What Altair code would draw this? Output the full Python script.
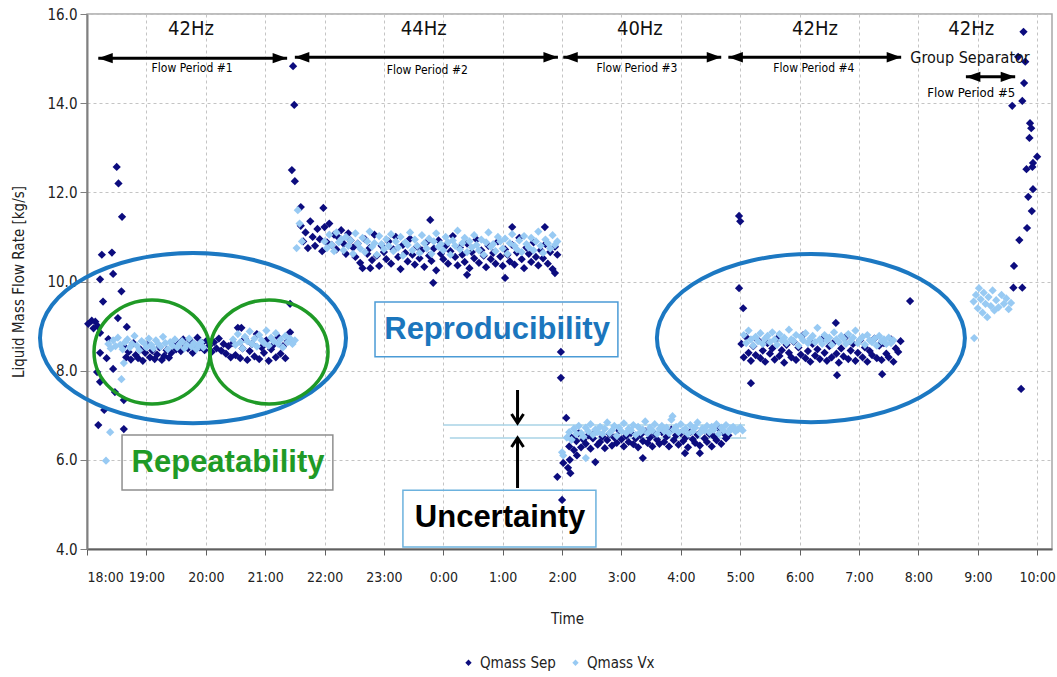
import altair as alt
import numpy as np
import pandas as pd

DARK = "#0c0c7e"
LIGHT = "#98caf3"
NARROW = "Liberation Sans Narrow, DejaVu Sans Condensed, Arial Narrow, sans-serif"
BOLD = "Liberation Sans, Arial, sans-serif"

# ---------------- data (hours after 18:00, kg/s) ----------------
STEP = 0.04
sep_p1_start, sep_p1 = 0.62, [
    8.55, 8.3, 8.42, 8.25, 8.62, 8.35, 8.28, 8.48, 8.22, 8.4, 8.58, 8.3, 8.45, 8.26, 8.36, 8.52, 8.24, 8.33, 8.46, 8.29, 8.4, 8.56,
    8.48, 8.6, 8.44, 8.7, 8.55, 8.5, 8.66, 8.4, 8.58, 8.74, 8.52, 8.62, 8.46, 8.68, 8.56, 8.42, 8.64, 8.5, 8.72, 8.45, 8.6, 8.38, 8.55, 8.3,
    8.62, 8.35, 8.96, 8.28, 8.5, 8.72, 8.24, 8.44, 8.6, 8.32, 8.82, 8.26, 8.52, 8.4, 8.68, 8.22, 8.48, 8.58, 8.3, 8.75, 8.38, 8.55, 8.28, 8.66, 8.86]
sep_p2_start, sep_p2 = 3.6, [
    11.25, 10.9, 11.1, 10.75, 11.35, 11.0, 10.8, 11.18, 10.95, 10.68, 11.22, 10.88, 11.3, 10.82, 11.05, 10.72, 10.98, 11.15, 10.85, 10.62, 11.08, 10.92, 10.76,
    10.55, 10.85, 10.42, 10.3, 10.95, 10.62, 10.75, 10.48, 11.05, 10.58,
    10.35, 10.8, 10.66, 10.5, 10.9, 10.4, 10.72, 11.0, 10.55, 10.28,
    10.82, 10.64, 10.45, 10.96, 10.6, 10.38, 10.78, 10.52, 10.7, 10.33,
    10.88, 10.58, 10.46, 10.74, 10.25, 10.92, 10.62, 10.5, 10.8, 10.4,
    10.68, 11.02, 10.55, 10.36, 10.76, 10.6, 10.44, 10.85, 10.3, 10.66,
    10.52, 10.94, 10.42, 10.7, 10.58, 10.32, 10.8, 10.5, 10.64, 10.4,
    10.9, 10.56, 10.35, 10.72, 10.6, 10.45, 10.82, 10.38, 10.65, 10.98,
    10.5, 10.3, 10.76, 10.62, 10.44, 10.88, 10.55, 10.36, 10.7, 10.52,
    10.84, 10.4, 10.66, 10.28, 10.78, 10.6]
sep_p3_start, sep_p3 = 8.12, [
    6.3, 6.5, 6.22, 6.42, 6.6, 6.28, 6.45, 6.36, 6.55, 6.25,
    6.48, 6.62, 6.34, 6.4, 6.52, 6.26, 6.44, 6.58, 6.32, 6.5,
    6.38, 6.66, 6.46, 6.3, 6.54, 6.4, 6.6, 6.35, 6.48, 6.28,
    6.56, 6.42, 6.64, 6.38, 6.5, 6.3, 6.58, 6.45, 6.36, 6.62,
    6.4, 6.52, 6.3, 6.68, 6.44, 6.55, 6.34, 6.6, 6.42, 6.5,
    6.28, 6.62, 6.46, 6.38, 6.56, 6.32, 6.66, 6.48, 6.4, 6.58,
    6.3, 6.52, 6.44, 6.7, 6.36, 6.6, 6.48, 6.55]
sep_p4_start, sep_p4 = 11.02, [
    8.6, 8.3, 8.75, 8.4, 8.22, 8.55, 8.35, 8.68, 8.28, 8.45,
    8.2, 8.62, 8.38, 8.5, 8.25, 8.72, 8.33, 8.46, 8.18, 8.58,
    8.4, 8.3, 8.65, 8.24, 8.52, 8.36, 8.8, 8.28, 8.44, 8.2,
    8.6, 8.34, 8.48, 8.26, 8.7, 8.4, 8.22, 8.55, 8.3, 8.64,
    8.38, 8.18, 8.5, 8.32, 8.76, 8.26, 8.45, 8.6, 8.22, 8.4,
    8.68, 8.3, 8.52, 8.2, 8.44, 8.35, 8.72, 8.28, 8.56, 8.24,
    8.62, 8.38, 8.3, 8.7, 8.2, 8.5, 8.42, 8.66]
sep_out_h = [0.02, 0.08, 0.14, 0.18, 0.11, 0.22, 0.25, 0.42, 0.22, 0.44, 0.27, 0.58, 0.52, 0.67, 0.36, 0.22, 0.33, 0.44,
             0.17, 0.22, 0.47, 0.62, 0.29, 0.19, 0.62, 0.5, 0.53, 0.59, 3.42, 2.6,
             3.47, 3.49, 3.45, 3.5, 3.6, 3.98, 5.78, 7.16, 7.71, 5.83, 4.77, 6.4, 7.04, 7.88,
             7.98, 7.98, 8.07, 7.92, 8.14, 8.0, 8.1, 8.02, 8.13, 8.56, 9.36, 10.07, 10.32, 8.25,
             10.98, 11.0, 10.98, 11.05, 11.18, 13.86, 12.63, 13.39, 12.61,
             15.61, 15.6, 15.75, 15.73, 15.77, 15.68, 15.8, 15.78, 15.58, 15.75, 15.88, 15.9, 15.87, 16.0,
             15.93, 15.82, 15.92, 15.93, 15.85, 15.91, 15.83, 15.7]
sep_out_v = [9.05, 9.12, 9.1, 9.0, 8.95, 8.85, 10.6, 10.65, 10.05, 10.17, 9.55, 9.78, 9.18, 8.98, 8.71, 8.4, 8.28, 8.04,
             7.97, 7.75, 7.52, 7.34, 7.12, 6.78, 6.69, 12.57, 12.2, 11.45, 9.5, 8.96,
             14.83, 13.96, 12.5, 12.25, 11.67, 11.65, 11.38, 11.22, 11.22, 9.97, 10.3, 10.15, 10.08, 10.19,
             8.42, 7.84, 6.94, 5.62, 5.7, 5.1, 5.82, 5.93, 6.0, 5.95, 6.04, 6.15, 6.15, 6.1,
             11.47, 11.35, 9.85, 9.4, 7.72, 9.56, 7.9, 7.92, 9.07,
             10.35, 9.86, 9.86, 7.59, 15.6, 15.04, 14.93, 14.45, 13.94, 14.05, 13.55, 13.44, 13.22, 12.8,
             12.66, 12.52, 12.57, 12.07, 11.9, 11.58, 11.2, 10.93]

vx_p1a_start, vx_p1a = 0.36, [
    8.6, 8.5, 8.68, 8.55, 8.74, 8.58, 8.48, 8.64, 8.7, 8.52,
    8.6, 8.78, 8.56, 8.46, 8.66, 8.62, 8.52, 8.72, 8.58, 8.5,
    8.68, 8.6, 8.54, 8.76, 8.62, 8.48, 8.64, 8.56, 8.7, 8.52,
    8.6, 8.66, 8.5, 8.58, 8.72, 8.54, 8.62, 8.48, 8.56, 8.64, 8.52]
vx_p1b_start, vx_p1b = 2.46, [
    8.7, 8.58, 8.82, 8.64, 8.5, 8.76, 8.66, 8.88, 8.6, 8.72, 8.54, 8.8, 8.68, 8.62,
    8.9, 8.56, 8.74, 8.66, 8.84, 8.6, 8.7, 8.52, 8.78, 8.64, 8.72, 8.6, 8.68]
vx_p2_start, vx_p2 = 4.0, [
    10.9, 10.75, 11.05, 10.82, 10.68, 11.1, 10.88, 10.95, 10.7, 11.0,
    10.8, 10.92, 10.62, 11.08, 10.85, 10.74, 10.98, 10.66, 10.9, 11.12,
    10.78, 10.86, 10.6, 11.02, 10.84, 10.72, 10.95, 10.8, 11.06, 10.68,
    10.9, 10.76, 11.0, 10.58, 10.88, 10.82, 11.1, 10.7, 10.94, 10.8,
    10.64, 11.04, 10.86, 10.74, 10.96, 10.62, 10.9, 11.08, 10.78, 10.84,
    10.7, 11.0, 10.88, 10.6, 10.92, 10.8, 11.14, 10.72, 10.86, 10.98,
    10.66, 10.9, 10.76, 11.04, 10.82, 10.7, 10.94, 10.6, 10.88, 11.1,
    10.78, 10.84, 10.68, 11.0, 10.9, 10.74, 10.96, 10.62, 10.86, 11.06,
    10.8, 10.72, 10.92, 10.66, 11.02, 10.84, 10.76, 10.98, 10.7, 10.9,
    11.12, 10.8, 10.64, 10.94, 10.86, 10.74, 11.04, 10.82, 10.9]
vx_p3_start, vx_p3 = 8.08, [
    6.5, 6.62, 6.45, 6.7, 6.58, 6.76, 6.6, 6.52, 6.72, 6.64,
    6.8, 6.56, 6.68, 6.62, 6.74, 6.58, 6.7, 6.84, 6.6, 6.66,
    6.76, 6.54, 6.72, 6.64, 6.82, 6.6, 6.7, 6.66, 6.78, 6.56,
    6.74, 6.62, 6.68, 6.86, 6.6, 6.72, 6.66, 6.8, 6.58, 6.7,
    6.76, 6.64, 6.72, 6.6, 6.9, 6.68, 6.74, 6.62, 6.8, 6.66,
    6.7, 6.58, 6.78, 6.64, 6.72, 6.84, 6.6, 6.7, 6.66, 6.76,
    6.62, 6.74, 6.68, 6.8, 6.58, 6.72, 6.66, 6.78, 6.62, 6.7,
    6.74, 6.64, 6.68, 6.72, 6.66]
vx_p4_start, vx_p4 = 11.06, [
    8.8, 8.62, 8.9, 8.7, 8.56, 8.76, 8.66, 8.84, 8.6, 8.72,
    8.78, 8.64, 8.86, 8.7, 8.58, 8.82, 8.68, 8.74, 8.62, 8.92,
    8.7, 8.66, 8.8, 8.56, 8.76, 8.68, 8.84, 8.62, 8.72, 8.78,
    8.64, 8.96, 8.7, 8.6, 8.8, 8.68, 8.74, 8.58, 8.86, 8.7,
    8.64, 8.78, 8.72, 8.6, 8.82, 8.66, 8.74, 8.9, 8.62, 8.7,
    8.76, 8.58, 8.8, 8.68, 8.64, 8.72, 8.56, 8.78, 8.66, 8.7,
    8.6, 8.74, 8.62, 8.68]
vx_out_h = [0.58, 0.39, 0.32, 0.62, 3.55, 3.53, 3.58, 3.62, 8.4, 8.0, 8.02, 9.86, 14.94,
            14.93, 14.97, 15.0, 15.02, 15.05, 15.08, 15.1, 15.13, 15.16, 15.18, 15.22, 15.25, 15.28, 15.31,
            15.35, 15.4, 15.44, 15.48, 15.52, 15.56]
vx_out_v = [7.81, 6.62, 5.98, 8.17, 11.6, 10.75, 11.3, 10.9, 6.04, 6.17, 6.1, 6.98, 8.73,
            9.55, 9.7, 9.4, 9.85, 9.6, 9.3, 9.75, 9.5, 9.2, 9.65, 9.45, 9.8, 9.35, 9.58,
            9.42, 9.7, 9.5, 9.62, 9.38, 9.52]

x_ticks = list(range(17))
y_ticks = [4, 6, 8, 10, 12, 14, 16]
SERIES = ["Qmass Sep", "Qmass Vx"]


def band(start, vals, name):
    return pd.DataFrame({"h": start + STEP * np.arange(len(vals)), "v": vals, "series": name})


pts = pd.concat([
    band(sep_p1_start, sep_p1, SERIES[0]), band(sep_p2_start, sep_p2, SERIES[0]),
    band(sep_p3_start, sep_p3, SERIES[0]), band(sep_p4_start, sep_p4, SERIES[0]),
    pd.DataFrame({"h": sep_out_h, "v": sep_out_v, "series": SERIES[0]}),
    band(vx_p1a_start, vx_p1a, SERIES[1]), band(vx_p1b_start, vx_p1b, SERIES[1]),
    band(vx_p2_start, vx_p2, SERIES[1]), band(vx_p3_start, vx_p3, SERIES[1]),
    band(vx_p4_start, vx_p4, SERIES[1]),
    pd.DataFrame({"h": vx_out_h, "v": vx_out_v, "series": SERIES[1]}),
], ignore_index=True)

# ---------------- scales / axes ----------------
xs = alt.Scale(domain=[0, 16.25], nice=False, zero=False)
ys = alt.Scale(domain=[4, 16], nice=False, zero=False)
x_axis = alt.Axis(values=x_ticks, labelExpr="((datum.value + 18) % 24) + ':00'", grid=True,
                  tickSize=6, labelPadding=15, labelFontSize=14, labelFont=NARROW, labelColor="#222",
                  titleFont=NARROW, titleFontSize=15, titleFontWeight="normal", titleColor="#222",
                  titleX=480, titleY=69, titleBaseline="middle", titleAlign="center",
                  domainColor="#606060", domainWidth=2, tickColor="#606060")
y_axis = alt.Axis(values=y_ticks, format=".1f", grid=True, tickSize=7, labelPadding=3,
                  labelFontSize=15, labelFont=NARROW, labelColor="#222",
                  titleFont=NARROW, titleFontSize=15, titleFontWeight="normal", titleColor="#222",
                  titleX=-69, titleY=267.5, titleAngle=-90, titleBaseline="middle", titleAlign="center",
                  domainColor="#808080", domainWidth=2, tickColor="#808080")


def X(f="h"):
    return alt.X(f, type="quantitative", scale=xs, axis=x_axis, title="Time")


def Y(f="v"):
    return alt.Y(f, type="quantitative", scale=ys, axis=y_axis, title="Liquid Mass Flow Rate [kg/s]")


# ---------------- annotations ----------------
boxes = pd.DataFrame({
    "h": [0.59, 4.85, 5.32], "h2": [4.14, 8.94, 8.57],
    "v": [6.557, 9.54, 5.32], "v2": [5.323, 8.31, 4.045],
    "col": ["#8f8f8f", "#4b9bd6", "#6cb2de"]})
box_layer = alt.Chart(boxes).mark_rect(fill="white", fillOpacity=0, strokeWidth=1.5).encode(
    x=X(), x2="h2", y=Y(), y2="v2", stroke=alt.Stroke("col:N", scale=None))

points = alt.Chart(pts).mark_point(shape="diamond", filled=True, size=68, opacity=1).encode(
    x=X(), y=Y(),
    color=alt.Color("series:N", scale=alt.Scale(domain=SERIES, range=[DARK, LIGHT]),
                    legend=alt.Legend(title=None, orient="none", legendX=374, legendY=641,
                                      direction="horizontal", symbolType="diamond", symbolSize=40,
                                      labelFont=NARROW, labelFontSize=15, labelColor="#222",
                                      columnPadding=12, padding=0, symbolStrokeWidth=0)))

big = pd.DataFrame({"h": [6.905, 2.375, 6.956], "v": [8.91, 5.93, 4.70],
                    "t": ["Reproducibility", "Repeatability", "Uncertainty"],
                    "col": ["#1b76bd", "#1f9a26", "#000000"]})
big_text = alt.Chart(big).mark_text(font=BOLD, fontSize=31, fontWeight="bold",
                                    align="center", baseline="middle").encode(
    x=X(), y=Y(), text="t:N", color=alt.Color("col:N", scale=None))

hz = pd.DataFrame({"h": [1.75, 5.67, 9.31, 12.26, 14.89], "v": [15.66] * 5,
                   "t": ["42Hz", "44Hz", "40Hz", "42Hz", "42Hz"]})
hz_text = alt.Chart(hz).mark_text(font=NARROW, fontSize=20, color="#111",
                                  align="center", baseline="middle").encode(x=X(), y=Y(), text="t:N")

fp = pd.DataFrame({"h": [1.77, 5.73, 9.26, 12.24, 14.89], "v": [14.8, 14.74, 14.8, 14.8, 14.23],
                   "t": ["Flow Period #1", "Flow Period #2", "Flow Period #3", "Flow Period #4", "Flow Period #5"],
                   "fs": [12, 12, 12, 12, 13]})
fp_text = alt.Chart(fp).mark_text(font=NARROW, color="#000", align="center", baseline="middle").encode(
    x=X(), y=Y(), text="t:N", size=alt.Size("fs:Q", scale=None))

gs_text = alt.Chart(pd.DataFrame({"h": [14.87], "v": [15.01], "t": ["Group Separator"]})).mark_text(
    font=NARROW, fontSize=16, color="#111", align="center", baseline="middle").encode(x=X(), y=Y(), text="t:N")

arrows = pd.DataFrame({"h": [0.19, 3.5, 8.02, 10.8, 14.8], "h2": [3.37, 7.93, 10.68, 13.71, 15.63],
                       "v": [15.01, 15.03, 15.03, 15.03, 14.59]})
arrow_lines = alt.Chart(arrows).mark_rule(color="black", strokeWidth=3).encode(x=X(), x2="h2", y=Y())
HEAD_R = "M0,0L-2,-0.72L-2,0.72Z"
HEAD_L = "M0,0L2,-0.72L2,0.72Z"
heads = pd.DataFrame({
    "h": list(arrows["h"]) + list(arrows["h2"]),
    "v": list(arrows["v"]) * 2,
    "shp": [HEAD_L] * 5 + [HEAD_R] * 5})
head_layer = alt.Chart(heads).mark_point(filled=True, size=210, color="black", opacity=1).encode(
    x=X(), y=Y(), shape=alt.Shape("shp:N", scale=None))

# uncertainty marks
ulines = pd.DataFrame({"h": [6.0, 6.11], "h2": [11.08, 11.1], "v": [6.78, 6.49]})
uline_layer = alt.Chart(ulines).mark_rule(color="#a9d3e6", strokeWidth=1.5).encode(x=X(), x2="h2", y=Y())
ushaft = pd.DataFrame({"h": [7.25, 7.25], "v": [7.567, 5.368], "v2": [6.85, 6.47]})
ushaft_layer = alt.Chart(ushaft).mark_rule(color="black", strokeWidth=3).encode(x=X(), y=Y(), y2="v2")
uheads = pd.DataFrame({"h": [7.25, 7.25], "v": [6.826, 6.49],
                       "shp": ["M-1,-1.5L0,0L1,-1.5", "M-1,1.5L0,0L1,1.5"]})
uhead_layer = alt.Chart(uheads).mark_point(filled=False, size=144, color="black", strokeWidth=3,
                                           opacity=1).encode(x=X(), y=Y(), shape=alt.Shape("shp:N", scale=None))


def ellipse_path(b):
    k = 0.5523
    return (f"M1,0C1,{k*b:.4f},{k:.4f},{b:.4f},0,{b:.4f}C{-k:.4f},{b:.4f},-1,{k*b:.4f},-1,0"
            f"C-1,{-k*b:.4f},{-k:.4f},{-b:.4f},0,{-b:.4f}C{k:.4f},{-b:.4f},1,{-k*b:.4f},1,0Z")


ell = pd.DataFrame({
    "h": [1.785, 12.19, 1.095, 3.065], "v": [8.73, 8.73, 8.42, 8.42],
    "shp": [ellipse_path(85 / 153), ellipse_path(84 / 154), ellipse_path(52 / 58), ellipse_path(52 / 59)],
    "sz": [306 ** 2, 308 ** 2, 116 ** 2, 118 ** 2],
    "col": ["#1c78c2", "#1c78c2", "#1f9a26", "#1f9a26"],
    "sw": [4, 4, 3.5, 3.5]})
ell_layer = alt.Chart(ell).mark_point(filled=False, opacity=1).encode(
    x=X(), y=Y(), shape=alt.Shape("shp:N", scale=None), size=alt.Size("sz:Q", scale=None),
    stroke=alt.Stroke("col:N", scale=None), strokeWidth=alt.StrokeWidth("sw:Q", scale=None))

chart = alt.layer(
    box_layer, uline_layer, points, big_text, hz_text, fp_text, gs_text,
    arrow_lines, head_layer, ushaft_layer, uhead_layer, ell_layer
).properties(
    width=965, height=535,
    autosize=alt.AutoSizeParams(type="none"),
    padding={"left": 87, "top": 14, "right": 5, "bottom": 128},
    background="white",
).configure_view(stroke="#a8a8a8", strokeWidth=1.5).configure_axis(
    gridColor="#c4c4c4", gridDash=[3, 3], gridWidth=1)

chart.save("out.html", embed_options={"renderer": "svg", "actions": False})
